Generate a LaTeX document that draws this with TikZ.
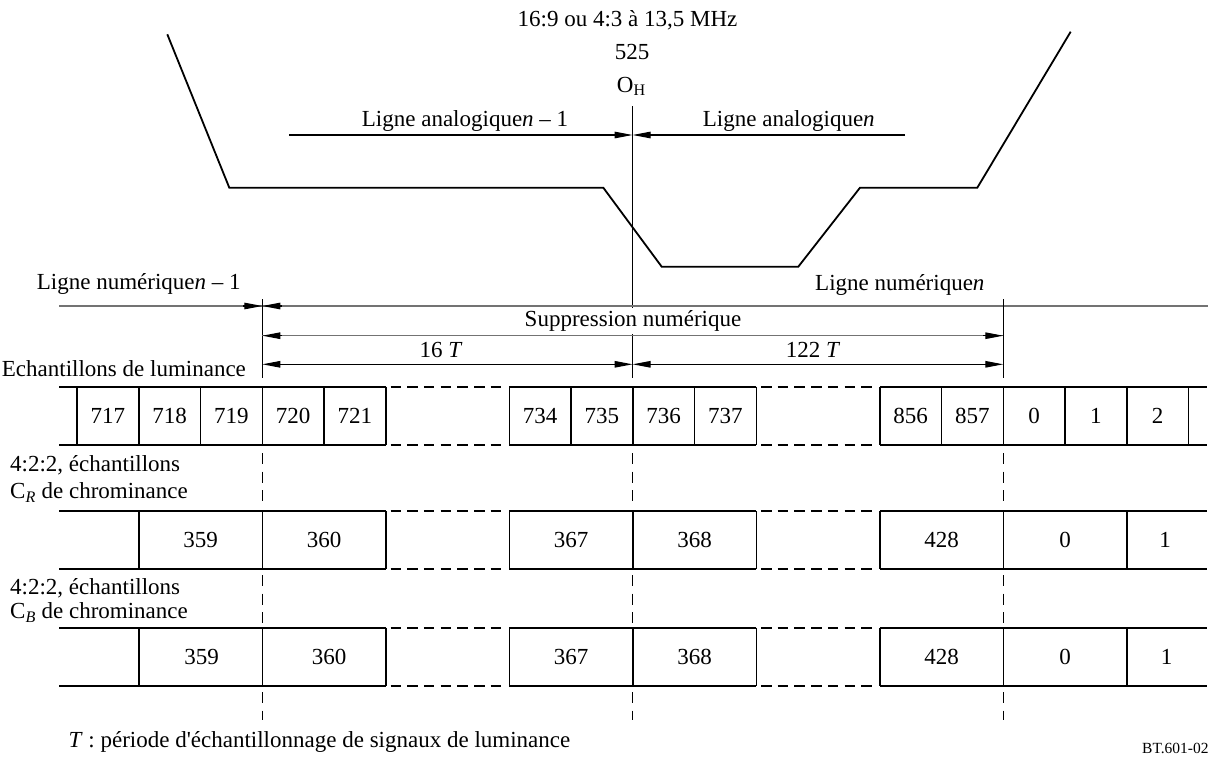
\documentclass[tikz,border=0pt]{standalone}
\usepackage{fontspec}
\setmainfont{Liberation Serif}
\usetikzlibrary{arrows.meta}
\begin{document}
\begin{tikzpicture}[x=1pt,y=-1pt,
  txt/.style={inner sep=0pt,font=\fontsize{23}{27}\selectfont},
  wave/.style={line width=1.8pt,line join=miter},
  vline/.style={line width=1pt},
  dim/.style={line width=1.1pt},
  grayline/.style={line width=1.2pt,black!55},
  tipend/.style={-{Triangle[length=18pt,width=6.5pt]}},
  tipboth/.style={{Triangle[length=18pt,width=6.5pt]}-{Triangle[length=18pt,width=6.5pt]}},
  cell/.style={line width=1.6pt},
  hdash/.style={line width=1.6pt,dash pattern=on 10.5pt off 6.2pt},
  vdash/.style={line width=1.3pt,dash pattern=on 11pt off 7.5pt},
  num/.style={txt,anchor=center}
]
\useasboundingbox (0,0) rectangle (1211,756);

% ---------- analog waveform ----------
\coordinate (w1) at (167.3,34.3);
\coordinate (w2) at (229.3,187.7);
\coordinate (w3) at (603.3,187.7);
\coordinate (w4) at (661.7,266.7);
\coordinate (w5) at (798.3,266.7);
\coordinate (w6) at (860,187.7);
\coordinate (w7) at (977.3,187.7);
\coordinate (w8) at (1070.7,31.7);
\draw[wave] (w1) -- (w2) -- (w3) -- (w4) -- (w5) -- (w6) -- (w7) -- (w8);

% ---------- top labels ----------
\node[txt,anchor=base] (title) at (627.5,26) {16:9 ou 4:3 à 13,5 MHz};
\node[txt,anchor=base] (n525) at (632,59) {525};
\node[txt,anchor=base west] (OH) at (616.7,92) {O\textsubscript{H}};

% ---------- O_H vertical ----------
\coordinate (oTop) at (632.6,106);
\coordinate (oBot) at (632.6,378.3);
\draw[vline] (oTop) -- (oBot);

% ---------- analog line arrows ----------
\coordinate (aL) at (289.3,135);
\coordinate (aR) at (905,135);
\coordinate (aM) at (632.6,135);
\draw[dim,tipend] (aL) -- (aM);
\draw[dim,tipend] (aR) -- (aM);
\node[txt,anchor=base west] (anaPrev) at (361.7,126) {Ligne analogique\textit{n} – 1};
\node[txt,anchor=base west] (anaN) at (702.7,126) {Ligne analogique\textit{n}};

% ---------- digital line ----------
\node[txt,anchor=base west] (numPrev) at (36.7,289.3) {Ligne numérique\textit{n} – 1};
\node[txt,anchor=base west] (numN) at (815,290) {Ligne numérique\textit{n}};
\coordinate (dL) at (59.3,306);
\coordinate (dR) at (1208,306);
\coordinate (dM) at (262.3,306);
\coordinate (dA1) at (243,306);
\coordinate (dA2) at (282,306);
\draw[grayline] (dL) -- (dM) -- (dR);
\draw[dim,tipend] (dA1) -- (dM);
\draw[dim,tipend] (dA2) -- (dM);

% verticals at 262 and 1003
\coordinate (v0t) at (262.3,299.3);
\coordinate (v0b) at (262.3,378.3);
\coordinate (v12t) at (1003.3,299.3);
\coordinate (v12b) at (1003.3,378.3);
\draw[vline] (v0t) -- (v0b);
\draw[vline] (v12t) -- (v12b);

% suppression
\coordinate (sL) at (262.3,335.7);
\coordinate (sR) at (1003.3,335.7);
\coordinate (sA1) at (282,335.7);
\coordinate (sA2) at (983,335.7);
\draw[grayline] (sL) -- (sR);
\draw[dim,tipend] (sA1) -- (sL);
\draw[dim,tipend] (sA2) -- (sR);
\node[txt,anchor=base,fill=white,inner xsep=2pt,inner ysep=2.5pt] (supp) at (633,326.7) {Suppression numérique};

% 16 T and 122 T
\coordinate (tL) at (262.3,364.3);
\coordinate (tM) at (632.6,364.3);
\coordinate (tR) at (1003.3,364.3);
\draw[dim,tipboth] (tL) -- (tM);
\draw[dim,tipboth] (tM) -- (tR);
\node[txt,anchor=base] (t16) at (441,357.3) {16 \textit{T}};
\node[txt,anchor=base] (t122) at (813,357.3) {122 \textit{T}};

% ---------- row labels ----------
\node[txt,anchor=base west] (lumlab) at (1.7,376.7) {Echantillons de luminance};
\node[txt,anchor=base west] (crlab1) at (10,471.7) {4:2:2, échantillons};
\node[txt,anchor=base west] (crlab2) at (10,498.3) {C\textsubscript{\textit{R}} de chrominance};
\node[txt,anchor=base west] (cblab1) at (10,594) {4:2:2, échantillons};
\node[txt,anchor=base west] (cblab2) at (10,618.3) {C\textsubscript{\textit{B}} de chrominance};

% ---------- rows: horizontal lines ----------
\foreach \yy in {386.7,445,511,569,627.7,686}{
  \draw[cell] (59.3,\yy) -- (385.8,\yy);
  \draw[cell] (509.3,\yy) -- (756.3,\yy);
  \draw[cell] (879.8,\yy) -- (1207,\yy);
  \draw[hdash] (390.5,\yy) -- (505,\yy);
  \draw[hdash] (761,\yy) -- (875.5,\yy);
}

% luminance verticals
\foreach \k in {-3,-2,-1,0,1,2,4,5,6,7,8,10,11,12,13,14,15}
  \draw[cell] ({262.3+\k*61.75},386.7) -- ({262.3+\k*61.75},445);
% luminance numbers
\foreach \k/\t in {-3/717,-2/718,-1/719,0/720,1/721,4/734,5/735,6/736,7/737,10/856,11/857,12/0,13/1,14/2}
  \node[num] (L\t) at ({262.3+(\k+0.5)*61.75},416) {\t};

% chroma verticals
\foreach \yt/\yb in {511/569,627.7/686}
  \foreach \k in {-2,0,2,4,6,8,10,12,14}
    \draw[cell] ({262.3+\k*61.75},\yt) -- ({262.3+\k*61.75},\yb);

% CR numbers
\foreach \xx/\t in {200.6/359,324.1/360,571/367,694.6/368,941.6/428,1065/0,1165/1}
  \node[num] (R\t) at (\xx,540) {\t};
% CB numbers
\foreach \xx/\t in {201.7/359,329/360,571/367,694.6/368,941.6/428,1065/0,1166.7/1}
  \node[num] (B\t) at (\xx,656.8) {\t};

% dashed verticals
\foreach \xx in {262.3,632.8,1003.3}{
  \draw[vdash] (\xx,453) -- (\xx,501);
  \draw[vdash] (\xx,575) -- (\xx,623);
  \draw[vdash] (\xx,692) -- (\xx,720);
}

% ---------- footnote ----------
\node[txt,anchor=base west] (foot) at (68.3,747.3) {\textit{T} : période d\textquotesingle échantillonnage de signaux de luminance};
\node[inner sep=0pt,anchor=base west,font=\fontsize{15.5}{18}\selectfont] (ref) at (1142,753) {BT.601-02};
\end{tikzpicture}
\end{document}
